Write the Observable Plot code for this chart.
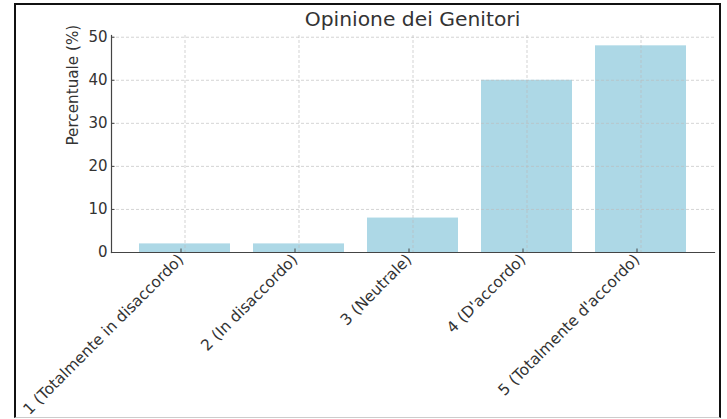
<!DOCTYPE html>
<html>
<head>
<meta charset="utf-8">
<script src="https://cdn.jsdelivr.net/npm/d3@7"></script>
<script src="https://cdn.jsdelivr.net/npm/@observablehq/plot@0.6"></script>
<style>
  html, body { margin: 0; padding: 0; background: #fff; }
  #wrap { position: relative; width: 727px; height: 419px; overflow: hidden; background: #fff; font-family: "DejaVu Sans", sans-serif; }
  #chart { position: absolute; left: 0; top: 0; }
  #title { position: absolute; left: 111px; width: 603px; top: 7px; text-align: center; font-size: 20.3px; line-height: 24px; color: #333; }
  #frame { position: absolute; left: 14px; top: 3px; width: 707px; height: 415px; box-sizing: border-box; border: 2px solid #111; border-bottom: 1px solid #ccc; pointer-events: none; }
</style>
</head>
<body>
<div id="wrap">
  <div id="chart"></div>
  <div id="title">Opinione dei Genitori</div>
  <div id="frame"></div>
</div>
<script>
const categories = [
  "1 (Totalmente in disaccordo)",
  "2 (In disaccordo)",
  "3 (Neutrale)",
  "4 (D'accordo)",
  "5 (Totalmente d'accordo)"
];
const percentages = [2, 2, 8, 40, 48];
const yTicks = [0, 10, 20, 30, 40, 50];
const yLabel = "Percentuale (%)";

const data = categories.map((c, i) => ({cat: c, val: percentages[i]}));

const chart = Plot.plot({
  width: 727,
  height: 419,
  marginLeft: 111,
  marginRight: 13,
  marginTop: 35,
  marginBottom: 167,
  style: {fontFamily: "DejaVu Sans", fontSize: "15px", color: "#333", background: "transparent", overflow: "visible"},
  x: {domain: categories, paddingInner: 0.2, paddingOuter: 0.24, label: null},
  y: {domain: [0, 50.4], label: null},
  marks: [
    Plot.barY(data, {x: "cat", y: "val", fill: "#add8e6"}),
    Plot.gridX(categories, {stroke: "#bbb", strokeOpacity: 0.8, strokeDasharray: "3,2", strokeWidth: 0.8}),
    Plot.gridY(yTicks, {stroke: "#bbb", strokeOpacity: 0.8, strokeDasharray: "3,2", strokeWidth: 0.8}),
    Plot.axisY(yTicks, {tickSize: -3.5, tickPadding: 7.5, stroke: "#444", fill: "#333", fontSize: 15, label: null}),
    Plot.axisX({tickRotate: -45, tickSize: -3.5, tickPadding: 8, dx: -4, stroke: "#444", fill: "#333", fontSize: 15.4, label: null}),
    Plot.frame({anchor: "left", stroke: "#444", strokeWidth: 1.2}),
    Plot.frame({anchor: "bottom", stroke: "#444", strokeWidth: 1.2}),
    Plot.text([yLabel], {frameAnchor: "left", rotate: -90, dx: -38, dy: 1.5, text: d => d, fontSize: 15.2, fill: "#333"})
  ]
});
document.getElementById("chart").appendChild(chart);
</script>
</body>
</html>
